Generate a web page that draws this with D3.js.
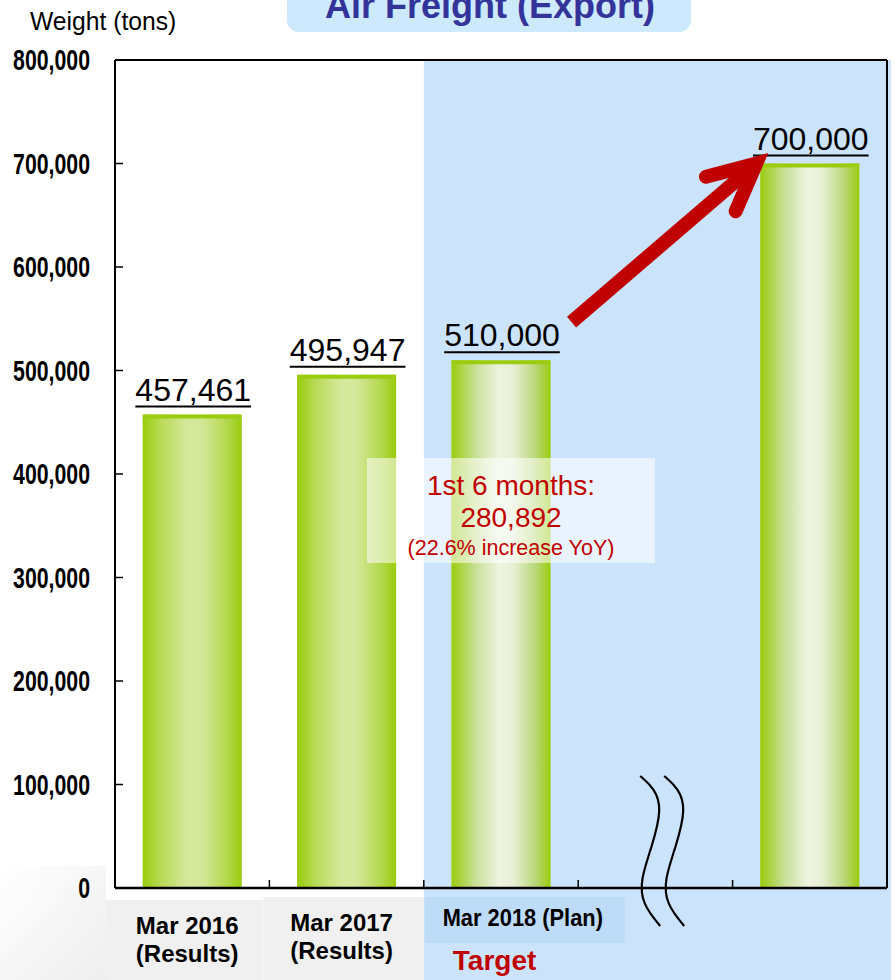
<!DOCTYPE html>
<html>
<head>
<meta charset="utf-8">
<script src="https://cdn.jsdelivr.net/npm/d3@7/dist/d3.min.js"></script>
<style>
  html, body { margin: 0; padding: 0; background: #fff; }
  svg { display: block; }
  text { font-family: "Liberation Sans", Arial, sans-serif; }
</style>
</head>
<body>
<svg id="chart" width="895" height="980"></svg>
<script>
// Annual air freight export volume (tons)
const categories = ["Mar 2016", "Mar 2017", "Mar 2018", "gap", "Target"];
const values = [457461, 495947, 510000, null, 700000];
const valueLabels = ["457,461", "495,947", "510,000", null, "700,000"];
const xLabels = [["Mar 2016", "(Results)"], ["Mar 2017", "(Results)"], ["Mar 2018 (Plan)"], [], []];
const yTicks = [0, 100000, 200000, 300000, 400000, 500000, 600000, 700000, 800000];
const halfYear = { title: "1st 6 months:", value: "280,892", note: "(22.6% increase YoY)" };

const svg = d3.select("#chart");
const W = 895, H = 980;
const plot = { left: 115, right: 887, top: 60, bottom: 888 };

const x = d3.scaleBand().domain(categories)
  .range([plot.left, plot.right])
  .paddingInner(0.358).paddingOuter(0.179);
const y = d3.scaleLinear().domain([0, 800000]).range([plot.bottom, plot.top]);
const step = x.step();
const bandStart = c => x(c) - step * x.paddingInner() / 2;

const defs = svg.append("defs");
function barGradient(id, stops) {
  const g = defs.append("linearGradient").attr("id", id)
    .attr("x1", "0%").attr("x2", "100%").attr("y1", "0%").attr("y2", "0%");
  stops.forEach(([o, c]) => g.append("stop").attr("offset", o).attr("stop-color", c));
}
barGradient("barResult", [["0%", "#9acc0c"], ["18%", "#b7da55"], ["45%", "#d6e89c"], ["60%", "#d4e799"], ["85%", "#b3d84c"], ["100%", "#9acc0c"]]);
barGradient("barPlan", [["0%", "#9acc0c"], ["8%", "#a9d23a"], ["25%", "#c9e09a"], ["48%", "#eef3e0"], ["62%", "#e8efd6"], ["85%", "#b9d777"], ["100%", "#9acc0c"]]);
const fade = defs.append("linearGradient").attr("id", "fadeLeft")
  .attr("x1", "0%").attr("y1", "0%").attr("x2", "100%").attr("y2", "100%");
fade.append("stop").attr("offset", "0%").attr("stop-color", "#ffffff");
fade.append("stop").attr("offset", "100%").attr("stop-color", "#eeeeee");

// Backgrounds
const planX = bandStart("Mar 2018");
svg.append("rect").attr("x", planX).attr("y", plot.top).attr("width", 891 - planX).attr("height", H - plot.top).attr("fill", "#cce4fb");
svg.append("rect").attr("x", 0).attr("y", 866).attr("width", 106).attr("height", 114).attr("fill", "url(#fadeLeft)");
svg.append("rect").attr("x", 106).attr("y", 900).attr("width", bandStart("Mar 2017") - 6 - 106).attr("height", 80).attr("fill", "#f0f0f0");
svg.append("rect").attr("x", bandStart("Mar 2017") - 6).attr("y", 897).attr("width", planX - bandStart("Mar 2017") + 6).attr("height", 83).attr("fill", "#f0f0f0");
svg.append("rect").attr("x", planX + 1).attr("y", 897).attr("width", 200).attr("height", 46).attr("fill", "#bedbf8");

// Title
svg.append("rect").attr("x", 287).attr("y", -20).attr("width", 404).attr("height", 52).attr("rx", 12).attr("fill", "#cce9fd");
svg.append("text").attr("x", 490).attr("y", 18).attr("text-anchor", "middle")
  .attr("font-size", 36).attr("font-weight", "bold").attr("fill", "#333399").text("Air Freight (Export)");
svg.append("text").attr("transform", "translate(30,30) scale(0.95,1)")
  .attr("font-size", 26).attr("fill", "#000").text("Weight (tons)");

// Bars
const data = categories.map((c, i) => ({ c, v: values[i], label: valueLabels[i] })).filter(d => d.v != null);
const bars = svg.append("g");
bars.selectAll("rect.bar").data(data).join("rect").attr("class", "bar")
  .attr("x", d => x(d.c)).attr("width", x.bandwidth())
  .attr("y", d => y(d.v)).attr("height", d => y(0) - y(d.v))
  .attr("fill", (d, i) => i < 2 ? "url(#barResult)" : "url(#barPlan)");
bars.selectAll("rect.cap").data(data).join("rect").attr("class", "cap")
  .attr("x", d => x(d.c)).attr("width", x.bandwidth())
  .attr("y", d => y(d.v)).attr("height", 4).attr("rx", 2)
  .attr("fill", "#9bcc10");

// Value labels, underlined
const labels = svg.append("g");
data.forEach(d => {
  const cx = x(d.c) + x.bandwidth() / 2 + 1;
  const t = labels.append("text").attr("x", cx).attr("y", y(d.v) - 14)
    .attr("text-anchor", "middle").attr("font-size", 32).attr("fill", "#000").text(d.label);
  const w = t.node().getComputedTextLength();
  labels.append("line").attr("x1", cx - w / 2).attr("x2", cx + w / 2)
    .attr("y1", y(d.v) - 8).attr("y2", y(d.v) - 8).attr("stroke", "#000").attr("stroke-width", 2);
});

// Half-year note
const noteBox = { x: 367, y: 458, w: 288, h: 105 };
svg.append("rect").attr("x", noteBox.x).attr("y", noteBox.y).attr("width", noteBox.w).attr("height", noteBox.h)
  .attr("fill", "#ffffff").attr("opacity", 0.55);
const ncx = noteBox.x + noteBox.w / 2;
svg.append("text").attr("x", ncx).attr("y", 495).attr("text-anchor", "middle").attr("font-size", 28).attr("fill", "#c00000").text(halfYear.title);
svg.append("text").attr("x", ncx).attr("y", 527).attr("text-anchor", "middle").attr("font-size", 28).attr("fill", "#c00000").text(halfYear.value);
svg.append("text").attr("x", ncx).attr("y", 555).attr("text-anchor", "middle").attr("font-size", 21.5).attr("fill", "#c00000").text(halfYear.note);

// Growth arrow from plan to target
const a0 = [x("Mar 2018") + x.bandwidth() + 21, y(510000) - 38];
const a1 = [x("Target") - 4, y(700000)];
const ang = Math.atan2(a1[1] - a0[1], a1[0] - a0[0]);
const back = ang + Math.PI;
const armLen = 52, armAng = 26 * Math.PI / 180;
const arm = s => [a1[0] + armLen * Math.cos(back + s * armAng), a1[1] + armLen * Math.sin(back + s * armAng)];
const shaftEnd = [a1[0] - 8 * Math.cos(ang), a1[1] - 8 * Math.sin(ang)];
svg.append("path").attr("d", d3.line()([a0, shaftEnd]))
  .attr("stroke", "#c00000").attr("stroke-width", 14).attr("fill", "none").attr("stroke-linecap", "butt");
svg.append("path").attr("d", d3.line()([arm(-1), a1, arm(1)]))
  .attr("stroke", "#c00000").attr("stroke-width", 14).attr("fill", "none")
  .attr("stroke-linecap", "round").attr("stroke-linejoin", "miter");

// Axes and frame
const axisG = svg.append("g");
axisG.append("line").attr("x1", plot.left).attr("x2", plot.right).attr("y1", plot.top).attr("y2", plot.top).attr("stroke", "#000").attr("stroke-width", 2);
axisG.append("line").attr("x1", plot.right).attr("x2", plot.right).attr("y1", plot.top).attr("y2", plot.bottom).attr("stroke", "#000").attr("stroke-width", 2);
axisG.append("line").attr("x1", plot.left).attr("x2", plot.left).attr("y1", plot.top).attr("y2", plot.bottom).attr("stroke", "#000").attr("stroke-width", 2);
axisG.append("line").attr("x1", plot.left).attr("x2", plot.right).attr("y1", plot.bottom).attr("y2", plot.bottom).attr("stroke", "#000").attr("stroke-width", 2.5);

axisG.selectAll("line.ytick").data(yTicks.slice(1, -1)).join("line").attr("class", "ytick")
  .attr("x1", plot.left).attr("x2", plot.left + 8).attr("y1", d => y(d)).attr("y2", d => y(d))
  .attr("stroke", "#000").attr("stroke-width", 1.5);
// condensed bold tick labels
axisG.selectAll("text.ylab").data(yTicks).join("text").attr("class", "ylab")
  .attr("transform", d => `translate(90,${y(d) + 10}) scale(0.71,1)`)
  .attr("text-anchor", "end")
  .attr("font-size", 30).attr("font-weight", "bold").attr("fill", "#000")
  .text(d => d3.format(",")(d));

axisG.selectAll("line.xtick").data(categories.slice(1)).join("line").attr("class", "xtick")
  .attr("x1", d => bandStart(d)).attr("x2", d => bandStart(d))
  .attr("y1", plot.bottom).attr("y2", plot.bottom - 8)
  .attr("stroke", "#000").attr("stroke-width", 1.5);

// Axis break marks
const breakX = bandStart("gap") + 62;
const wave = d3.line().curve(d3.curveBasis);
[0, 24].forEach(off => {
  const bx = breakX + off;
  svg.append("path").attr("d", wave([
    [bx, 776], [bx + 14, 788], [bx + 22, 808], [bx + 12, 846], [bx, 880], [bx + 2, 904], [bx + 20, 926]
  ])).attr("fill", "none").attr("stroke", "#000").attr("stroke-width", 2.2);
});

// Category labels
const xLabelPos = [
  { cx: x("Mar 2016") + x.bandwidth() / 2 - 5, y0: 934 },
  { cx: x("Mar 2017") + x.bandwidth() / 2 - 5, y0: 931 }
];
xLabelPos.forEach((p, i) => {
  xLabels[i].forEach((line, j) => {
    svg.append("text").attr("x", p.cx).attr("y", p.y0 + j * 28)
      .attr("text-anchor", "middle").attr("font-size", 24).attr("font-weight", "bold")
      .attr("fill", "#000").text(line);
  });
});
svg.append("text").attr("transform", `translate(${planX + 99},926) scale(0.93,1)`)
  .attr("text-anchor", "middle").attr("font-size", 23.5).attr("font-weight", "bold")
  .attr("fill", "#000").text(xLabels[2][0]);
svg.append("text").attr("x", planX + 29).attr("y", 970).attr("font-size", 28).attr("font-weight", "bold")
  .attr("fill", "#c00000").text("Target");
</script>
</body>
</html>
